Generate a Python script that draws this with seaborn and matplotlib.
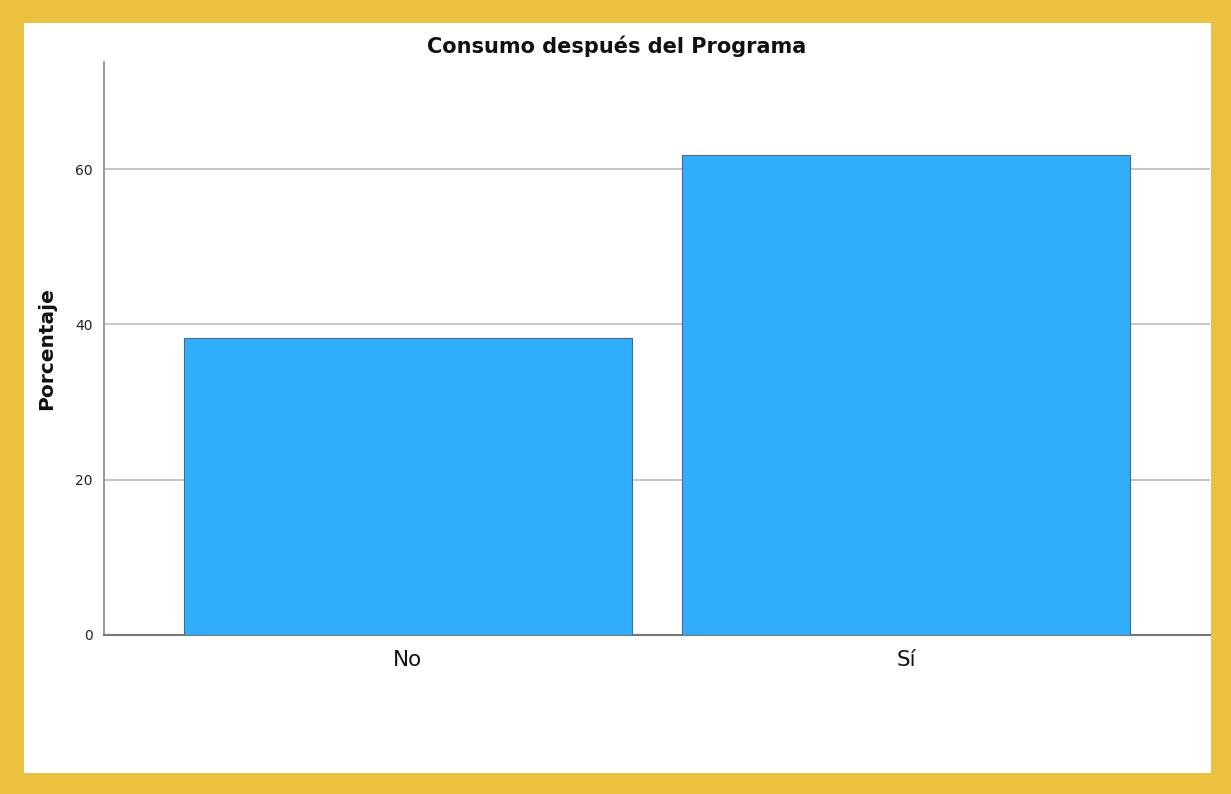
import matplotlib
matplotlib.use("Agg")
import matplotlib.pyplot as plt
from matplotlib.patches import Rectangle
import seaborn as sns
import pandas as pd

categories = ["No", "Sí"]
percentages = [38.2, 61.8]
y_ticks = [0, 20, 40, 60]

sns.set_theme(style="white")
plt.rcParams['font.family'] = ['DejaVu Sans']

fig = plt.figure(figsize=(12.31, 7.94), dpi=100)
fig.patch.set_facecolor("white")
# yellow frame
border = "#EBC23F"
fig.patches.extend([
    Rectangle((0, 0), 1, 21/794, transform=fig.transFigure, facecolor=border, edgecolor="none", zorder=0),
    Rectangle((0, 1-23/794), 1, 23/794, transform=fig.transFigure, facecolor=border, edgecolor="none", zorder=0),
    Rectangle((0, 0), 24/1231, 1, transform=fig.transFigure, facecolor=border, edgecolor="none", zorder=0),
    Rectangle((1-20/1231, 0), 20/1231, 1, transform=fig.transFigure, facecolor=border, edgecolor="none", zorder=0),
])

ax = fig.add_axes([104/1231, 1-635/794, (1210-104)/1231, (635-62)/794])
ax.set_facecolor("none")

df = pd.DataFrame({"cat": categories, "pct": percentages})
sns.barplot(data=df, x="cat", y="pct", ax=ax, color="#30AEFB", saturation=1,
            width=0.9, edgecolor="#4A6A88", linewidth=0.8, zorder=3)

ax.set_xlim(-0.61, 1.61)
ax.set_ylim(0, 73.8)
ax.set_yticks(y_ticks)
ax.set_yticklabels([str(t) for t in y_ticks], fontsize=10, color="#222222")
ax.tick_params(axis="y", length=0, pad=8)
ax.tick_params(axis="x", length=0, pad=11, labelsize=15.5)
for lab in ax.get_xticklabels():
    lab.set_color("#111111")
    lab.set_fontweight("medium")

for t in y_ticks[1:]:
    ax.axhline(t, color="#BBBBBB", linewidth=1.2, zorder=1)

for s in ["top", "right"]:
    ax.spines[s].set_visible(False)
ax.spines["left"].set_color("#8A8A8A")
ax.spines["left"].set_linewidth(1.2)
ax.spines["bottom"].set_color("#777777")
ax.spines["bottom"].set_linewidth(1.5)

ax.set_xlabel("")
ax.set_ylabel("Porcentaje", fontsize=14.5, fontweight="bold", color="#111111", labelpad=14)
fig.text(617/1231, 1-46/794, "Consumo después del Programa", ha="center", va="center",
         fontsize=15, fontweight="bold", color="#111111")

fig.savefig("out.png", dpi=100, facecolor=fig.get_facecolor())
